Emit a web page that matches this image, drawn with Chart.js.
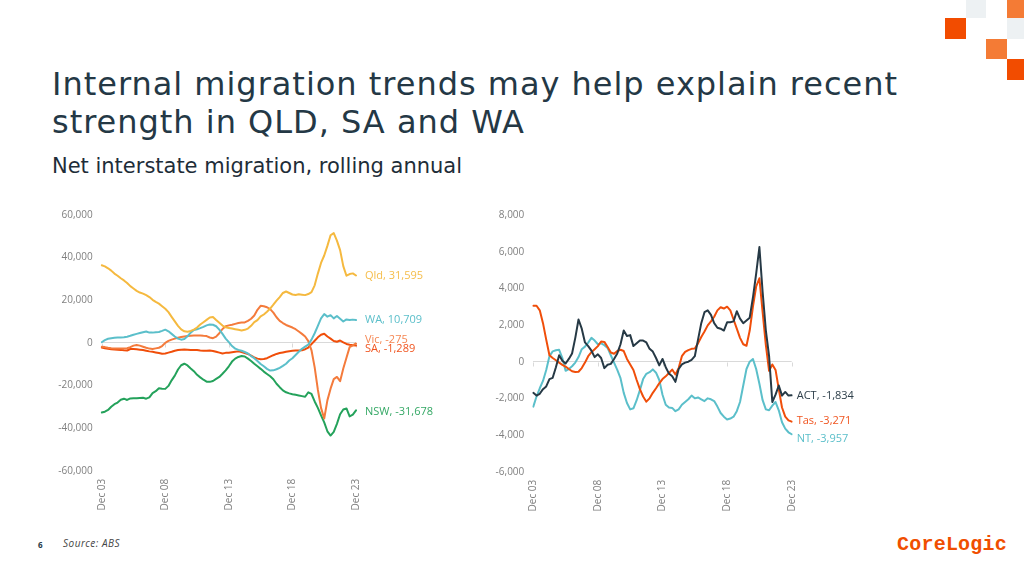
<!DOCTYPE html>
<html>
<head>
<meta charset="utf-8">
<script src="https://cdn.jsdelivr.net/npm/chart.js@4.4.1/dist/chart.umd.min.js"></script>
<style>
  html, body { margin:0; padding:0; background:#fff; width:1024px; height:568px; overflow:hidden; font-family:'Open Sans', sans-serif; }
  .sq { position:absolute; width:20.5px; height:20.5px; }
  #title { position:absolute; left:52px; top:64.9px; font-family:'DejaVu Sans', sans-serif; font-size:32px; line-height:38px; color:#243845; font-weight:400; white-space:nowrap; }
  #subtitle { position:absolute; left:52px; top:154px; font-family:'DejaVu Sans', sans-serif; font-size:21px; line-height:24px; color:#1e2d38; white-space:nowrap; }
  canvas { position:absolute; }
  #pg { position:absolute; left:38px; top:540px; font-size:8px; line-height:10px; font-weight:700; color:#243845; }
  #src { position:absolute; left:63px; top:537.4px; font-size:10px; line-height:12px; font-style:italic; color:#444; }
  #logo { position:absolute; left:897px; top:534.7px; font-size:20px; line-height:20px; font-weight:700; color:#f04e00; font-family:'Liberation Mono', monospace; }
</style>
</head>
<body>
<div class="sq" style="left:965.5px;top:-2.2px;background:#edf1f3"></div>
<div class="sq" style="left:1006.5px;top:-2.2px;background:#f47b35"></div>
<div class="sq" style="left:945px;top:18.3px;background:#f24c00"></div>
<div class="sq" style="left:1006.5px;top:18.3px;background:#edf1f3"></div>
<div class="sq" style="left:986px;top:38.8px;background:#f47b35"></div>
<div class="sq" style="left:1006.5px;top:59.3px;background:#f24c00"></div>

<div id="title"><span id="t1">Internal migration trends may help explain recent</span><br><span id="t2">strength in QLD, SA and WA</span></div>
<div id="subtitle"><span id="s1">Net interstate migration, rolling annual</span></div>

<canvas id="left" width="400" height="320" style="left:50px;top:200px"></canvas>
<canvas id="right" width="380" height="320" style="left:490px;top:200px"></canvas>

<div id="pg">6</div>
<div id="src"><span id="srct">Source: ABS</span></div>
<div id="logo"><span id="logot">CoreLogic</span></div>

<script>
// fit text widths to the reference layout via letter spacing
function fitSpacing(el, target, apply) {
  const w = el.getBoundingClientRect().width;
  const n = el.textContent.length;
  const ls = (target - w) / n;
  (apply || [el]).forEach(e => e.style.letterSpacing = ls + 'px');
}
fitSpacing(document.getElementById('t1'), 846, [document.getElementById('t1'), document.getElementById('t2')]);
fitSpacing(document.getElementById('s1'), 410);
fitSpacing(document.getElementById('srct'), 57);
fitSpacing(document.getElementById('logot'), 110);

const quarters = [
 'Dec 03','Mar 04','Jun 04','Sep 04','Dec 04','Mar 05','Jun 05','Sep 05','Dec 05','Mar 06','Jun 06','Sep 06',
 'Dec 06','Mar 07','Jun 07','Sep 07','Dec 07','Mar 08','Jun 08','Sep 08','Dec 08','Mar 09','Jun 09','Sep 09',
 'Dec 09','Mar 10','Jun 10','Sep 10','Dec 10','Mar 11','Jun 11','Sep 11','Dec 11','Mar 12','Jun 12','Sep 12',
 'Dec 12','Mar 13','Jun 13','Sep 13','Dec 13','Mar 14','Jun 14','Sep 14','Dec 14','Mar 15','Jun 15','Sep 15',
 'Dec 15','Mar 16','Jun 16','Sep 16','Dec 16','Mar 17','Jun 17','Sep 17','Dec 17','Mar 18','Jun 18','Sep 18',
 'Dec 18','Mar 19','Jun 19','Sep 19','Dec 19','Mar 20','Jun 20','Sep 20','Dec 20','Mar 21','Jun 21','Sep 21',
 'Dec 21','Mar 22','Jun 22','Sep 22','Dec 22','Mar 23','Jun 23','Sep 23','Dec 23'
];
const tickLabels = ['Dec 03','Dec 08','Dec 13','Dec 18','Dec 23'];

const qld = [36400,35900,35000,33900,32500,31500,30300,29300,28100,26600,
 25500,24400,23600,23100,22400,21500,20200,19200,18400,17200,
 16000,14400,12200,10100,8000,6300,5400,5200,5600,6200,
 7200,8600,9700,10800,11900,12100,10700,9400,8100,7300,
 7000,6700,6400,6100,5800,6100,6700,8000,9700,10700,
 12400,13300,14600,16100,17900,19800,21500,23400,24100,23400,
 22700,22500,22800,22600,22400,22900,23800,27000,32500,37500,
 41000,45500,50500,51500,48000,43500,36000,31500,32300,32600,
 31595];
const wa = [300,1300,1900,2200,2400,2500,2500,2600,2900,3300,
 3800,4200,4600,5000,5300,4800,4800,5000,5100,5600,
 6200,5400,4200,3000,2000,1500,1800,3100,4800,6000,
 6400,6900,7500,8200,8600,8500,7800,6200,4200,2000,
 300,-1500,-2700,-3300,-3700,-4300,-5000,-6200,-7200,-8500,
 -9900,-11000,-12200,-13000,-12900,-12400,-11700,-10800,-9800,-8300,
 -7200,-5700,-4200,-2800,-1800,-800,1500,4500,8000,11500,
 13500,12300,13000,11500,12600,11300,10000,11000,10700,10900,
 10709];
const vic = [-1800,-2000,-2300,-2500,-2600,-2700,-2700,-2600,-2500,-2000,
 -1300,-1000,-1300,-1800,-2300,-2700,-2900,-2600,-2300,-1500,
 0,900,1500,2000,2400,2700,3000,3200,3300,3400,
 3400,3500,3300,3200,2500,2200,2900,4500,6500,7800,
 8200,8500,8900,9300,9500,9600,10300,11300,12800,15500,
 17400,17200,16700,15800,14200,12000,10300,9300,8400,7800,
 7200,6400,5300,4200,3000,800,-3500,-11500,-22000,-30500,
 -35500,-27000,-21500,-17000,-16000,-18000,-12000,-7000,-2000,-1200,
 -275];
const sa = [-2200,-2500,-2800,-3000,-3100,-3200,-3300,-3500,-3600,-2900,
 -2900,-3000,-3200,-3400,-3700,-4000,-4200,-4500,-4800,-5100,
 -5000,-4600,-4200,-3700,-3400,-3200,-3100,-3200,-3300,-3300,
 -3400,-3600,-3700,-3700,-3600,-3800,-4200,-4600,-5000,-4700,
 -4600,-4400,-4200,-4000,-4300,-4800,-5200,-6000,-6800,-7400,
 -7700,-7600,-7200,-6500,-5800,-5200,-4800,-4500,-4200,-3900,
 -3700,-3600,-3600,-3500,-3000,-2200,-600,1000,2600,3800,
 4300,3000,2000,900,500,1100,200,-500,-900,-1100,
 -1289];
const nsw = [-32700,-32300,-31500,-30000,-28800,-28000,-26700,-26200,-26800,-26100,
 -26000,-26000,-25900,-25800,-26200,-25600,-23600,-22700,-21300,-21500,
 -21600,-20200,-17600,-15400,-12500,-10500,-9800,-10600,-12000,-13300,
 -15000,-16200,-17300,-18200,-18300,-17900,-16900,-16000,-14500,-12900,
 -11000,-8800,-7400,-6600,-6200,-6400,-7400,-8500,-9800,-11000,
 -12200,-13500,-14600,-15700,-17100,-19200,-20800,-22300,-23200,-23700,
 -24100,-24400,-24700,-25000,-25300,-23200,-24000,-27500,-30500,-34000,
 -37300,-41500,-43500,-41800,-38000,-33500,-31300,-30800,-34500,-33700,
 -31678];

const act = [-1700,-1850,-1750,-1500,-1350,-950,-880,-300,350,50,
 -100,150,450,1300,2300,1800,1050,850,600,250,
 400,200,-350,-170,-120,150,450,950,1700,1400,
 1450,850,1000,1150,1150,1050,700,550,200,-200,
 150,-300,-650,-800,-1100,-400,-150,-50,0,100,
 300,1200,2100,2700,2800,2550,2100,1850,1800,1700,
 2150,2150,2200,2750,2350,2100,2250,2400,3500,4800,
 6250,3800,1700,300,-2200,-1800,-1300,-1850,-1650,-1850,
 -1834];
const tas = [3050,3050,2800,2100,1200,350,200,80,-50,-170,
 -270,-400,-520,-560,-550,-350,-50,300,520,680,
 850,1100,1080,800,500,430,580,650,580,150,
 -150,-450,-1000,-1500,-1900,-2180,-2000,-1700,-1450,-1180,
 -950,-800,-620,-430,-700,-350,300,530,630,700,
 720,1000,1350,1650,1980,2200,2450,2800,2970,2900,
 3000,2800,2300,1800,1300,950,870,1700,3000,4100,
 4550,2700,900,-500,-150,-450,-1500,-2500,-3000,-3200,
 -3271];
const nt = [-2450,-1900,-1450,-1050,-450,300,560,620,650,200,
 -500,-400,-250,-50,250,680,820,1040,1300,1150,
 950,1000,900,750,350,-50,-450,-900,-1700,-2250,
 -2600,-2540,-2100,-1550,-950,-660,-570,-420,-600,-1000,
 -1800,-2350,-2500,-2520,-2700,-2600,-2350,-2200,-2050,-1850,
 -2000,-1950,-2050,-2150,-2000,-2050,-2150,-2450,-2800,-3000,
 -3150,-3100,-3000,-2700,-2200,-1300,-400,0,150,-400,
 -1200,-2100,-2600,-2650,-2400,-2200,-2650,-3300,-3650,-3850,
 -3957];

const leftYTicks = {min:-60000, max:60000, step:20000};
const rightYTicks = {min:-6000, max:8000, step:2000};

const FONT = "'Open Sans', sans-serif";
const TICK_COLOR = '#808080';

const endLabels = {
  id: 'endLabels',
  afterDatasetsDraw(chart) {
    const ctx = chart.ctx;
    chart.data.datasets.forEach((ds, i) => {
      const meta = chart.getDatasetMeta(i);
      const pt = meta.data[meta.data.length - 1];
      const v = ds.data[ds.data.length - 1];
      ctx.save();
      ctx.font = '11px ' + FONT;
      ctx.fillStyle = ds.labelColor;
      ctx.textBaseline = 'middle';
      ctx.textAlign = 'left';
      ctx.fillText(ds.label + ', ' + v.toLocaleString('en-US'), pt.x + ds.labelDx, pt.y + ds.labelDy);
      ctx.restore();
    });
  }
};

const zeroTicks = {
  id: 'zeroTicks',
  beforeDatasetsDraw(chart) {
    const ctx = chart.ctx;
    const xs = chart.scales.x, ys = chart.scales.y;
    const y0 = Math.round(ys.getPixelForValue(0)) + 0.5;
    ctx.save();
    ctx.strokeStyle = '#d9d9d9';
    ctx.lineWidth = 1;
    tickLabels.forEach(l => {
      const x = Math.round(xs.getPixelForValue(quarters.indexOf(l))) + 0.5;
      ctx.beginPath(); ctx.moveTo(x, y0); ctx.lineTo(x, y0 + 4); ctx.stroke();
    });
    ctx.restore();
  }
};

function makeChart(id, datasets, yt, layout) {
  return new Chart(document.getElementById(id), {
    type: 'line',
    data: { labels: quarters, datasets: datasets.map(d => Object.assign({
      borderWidth: 2, pointRadius: 0, tension: 0, fill: false,
      borderJoinStyle: 'round', borderCapStyle: 'round'
    }, d)) },
    options: {
      responsive: false, animation: false, devicePixelRatio: 1,
      layout: { padding: { top: layout.top, right: layout.right, left: 0, bottom: 0 } },
      plugins: { legend: { display: false }, tooltip: { enabled: false } },
      scales: {
        x: {
          type: 'category', offset: false,
          grid: { display: false, drawTicks: false }, border: { display: false },
          ticks: {
            autoSkip: false, maxRotation: 90, minRotation: 90, padding: 8,
            color: TICK_COLOR, font: { family: FONT, size: 10 },
            callback: (v, i) => tickLabels.includes(quarters[i]) ? quarters[i] : ''
          },
          afterFit: s => { s.height = layout.xh; }
        },
        y: {
          min: yt.min, max: yt.max,
          grid: { color: c => (c.tick && c.tick.value === 0) ? '#d9d9d9' : 'rgba(0,0,0,0)', drawTicks: false, lineWidth: 1 },
          border: { display: false },
          ticks: {
            stepSize: yt.step, padding: 9, color: TICK_COLOR, font: { family: FONT, size: 10 },
            callback: v => v.toLocaleString('en-US')
          },
          afterFit: s => { s.width = layout.yw; }
        }
      }
    },
    plugins: [zeroTicks, endLabels]
  });
}

makeChart('left', [
  { label: 'Qld', data: qld, borderColor: '#f5b93f', labelColor: '#f5bd4a', labelDx: 9, labelDy: 0 },
  { label: 'WA', data: wa, borderColor: '#5bbfca', labelColor: '#5bbfca', labelDx: 9, labelDy: 0 },
  { label: 'Vic', data: vic, borderColor: '#f47b3c', labelColor: '#f58652', labelDx: 9, labelDy: -4 },
  { label: 'SA', data: sa, borderColor: '#f04e0a', labelColor: '#f05520', labelDx: 9, labelDy: 3 },
  { label: 'NSW', data: nsw, borderColor: '#24a25b', labelColor: '#34a865', labelDx: 9, labelDy: 2 }
], leftYTicks, { top: 13.3, right: 94, xh: 49.3, yw: 51.7 });

makeChart('right', [
  { label: 'ACT', data: act, borderColor: '#263945', labelColor: '#2f404b', labelDx: 5, labelDy: 1 },
  { label: 'Tas', data: tas, borderColor: '#f04e0a', labelColor: '#f05520', labelDx: 5, labelDy: -1 },
  { label: 'NT', data: nt, borderColor: '#5bbfca', labelColor: '#5bbfca', labelDx: 5, labelDy: 5 }
], rightYTicks, { top: 10, right: 78.3, xh: 48.3, yw: 43.3 });
</script>
</body>
</html>
